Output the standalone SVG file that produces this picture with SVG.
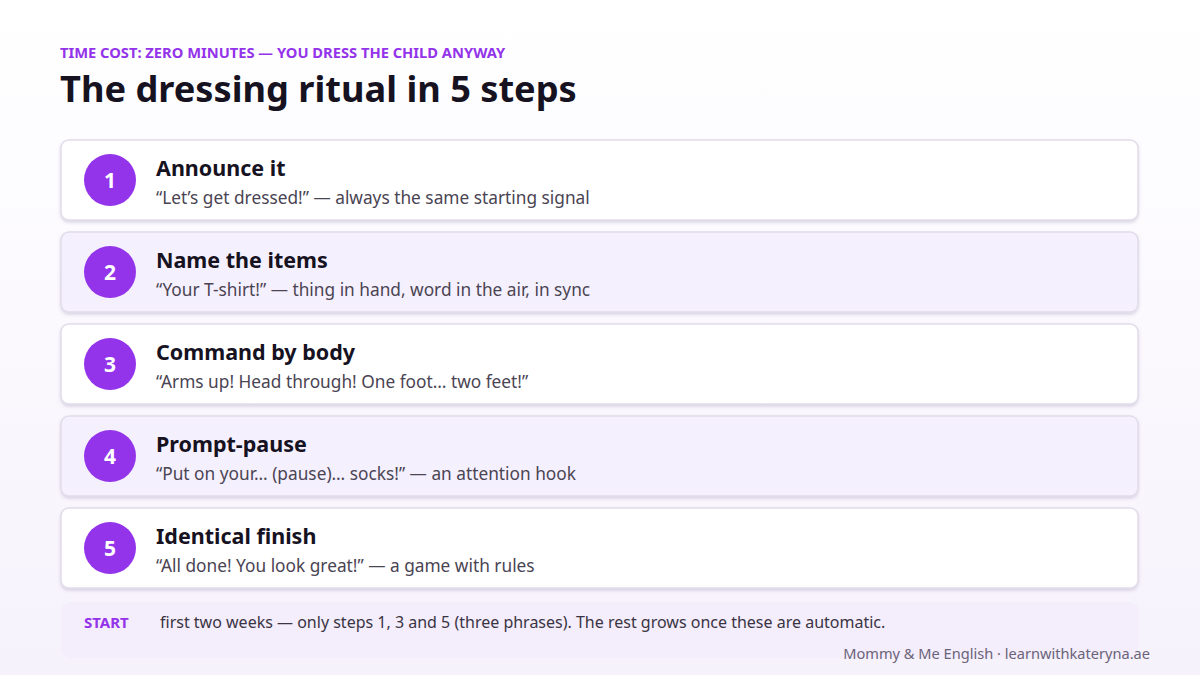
<svg xmlns="http://www.w3.org/2000/svg" width="1200" height="675" viewBox="0 0 1200 675">
<defs>
<linearGradient id="bg" x1="0" y1="0" x2="0" y2="1"><stop offset="0" stop-color="#ffffff"/><stop offset="1" stop-color="#f6f2fc"/></linearGradient>
<filter id="sh" x="-5%" y="-10%" width="110%" height="130%"><feDropShadow dx="0" dy="2" stdDeviation="1.5" flood-color="#7a6a9a" flood-opacity="0.25"/></filter>
</defs>
<style>
text{font-family:"Noto Sans","Open Sans","Liberation Sans",sans-serif}
.card{stroke:#e2dcea;stroke-width:1.5;filter:url(#sh)}
.w{fill:#ffffff}.p{fill:#f5f0fd}
.c{fill:#9333ea}
.n{fill:#fff;font-size:21px;font-weight:700;text-anchor:middle}
.t{fill:#16121f;font-size:21.5px;font-weight:700}
.s{fill:#4a4453;font-size:17.3px}
</style>
<rect width="1200" height="675" fill="url(#bg)"/>
<text x="60" y="58" fill="#9333ea" font-size="14.7" font-weight="700">TIME COST: ZERO MINUTES — YOU DRESS THE CHILD ANYWAY</text>
<text x="60" y="102" fill="#16121f" font-size="36.2" font-weight="700">The dressing ritual in 5 steps</text>
<g id="step1"><rect class="card w" x="61" y="140" width="1077" height="80" rx="8"/><circle class="c" cx="110" cy="180" r="26"/><text class="n" x="110" y="188">1</text><text class="t" x="156" y="176">Announce it</text><text class="s" x="156" y="204">“Let’s get dressed!” — always the same starting signal</text></g>
<g id="step2"><rect class="card p" x="61" y="232" width="1077" height="80" rx="8"/><circle class="c" cx="110" cy="272" r="26"/><text class="n" x="110" y="280">2</text><text class="t" x="156" y="268">Name the items</text><text class="s" x="156" y="296">“Your T-shirt!” — thing in hand, word in the air, in sync</text></g>
<g id="step3"><rect class="card w" x="61" y="324" width="1077" height="80" rx="8"/><circle class="c" cx="110" cy="364" r="26"/><text class="n" x="110" y="372">3</text><text class="t" x="156" y="360">Command by body</text><text class="s" x="156" y="388">“Arms up! Head through! One foot… two feet!”</text></g>
<g id="step4"><rect class="card p" x="61" y="416" width="1077" height="80" rx="8"/><circle class="c" cx="110" cy="456" r="26"/><text class="n" x="110" y="464">4</text><text class="t" x="156" y="452">Prompt-pause</text><text class="s" x="156" y="480">“Put on your… (pause)… socks!” — an attention hook</text></g>
<g id="step5"><rect class="card w" x="61" y="508" width="1077" height="80" rx="8"/><circle class="c" cx="110" cy="548" r="26"/><text class="n" x="110" y="556">5</text><text class="t" x="156" y="544">Identical finish</text><text class="s" x="156" y="572">“All done! You look great!” — a game with rules</text></g>
<g id="start"><rect x="61" y="602" width="1078" height="56" rx="10" fill="#f3edfc"/><text x="84" y="628" fill="#9333ea" font-size="15" font-weight="700">START</text><text x="160" y="628" fill="#3a3443" font-size="16">first two weeks — only steps 1, 3 and 5 (three phrases). The rest grows once these are automatic.</text></g>
<text x="1150" y="659" text-anchor="end" fill="#6b6478" font-size="14.6">Mommy &amp; Me English · learnwithkateryna.ae</text>
<g id="connectors"/>
</svg>
